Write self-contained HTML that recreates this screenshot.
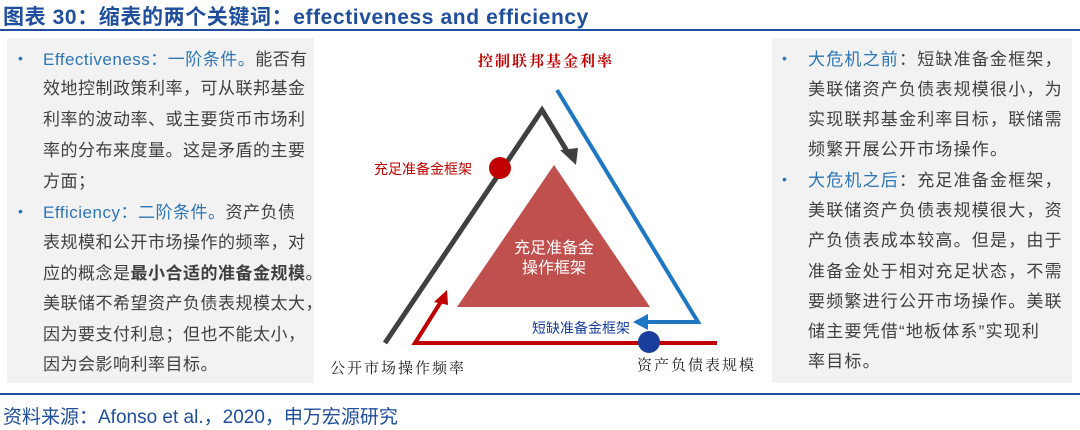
<!DOCTYPE html>
<html><head><meta charset="utf-8"><style>
body{margin:0;width:1080px;height:430px;background:#fff;position:relative;overflow:hidden;font-family:"Liberation Sans","Noto Sans CJK SC",sans-serif;}
.t{position:absolute;white-space:nowrap;}
.box{position:absolute;background:#f2f2f2;}
.ln{position:absolute;white-space:nowrap;font-size:17px;color:#404040;line-height:20px;}
.b{color:#2e75b6;}
.dot{position:absolute;color:#2e75b6;font-size:14px;}
</style></head><body>
<div class="t" style="left:3px;top:1px;font-size:21px;font-weight:bold;color:#1f4e9c;letter-spacing:0.6px;">图表 30：缩表的两个关键词：effectiveness and efficiency</div>
<div style="position:absolute;left:0;top:29px;width:1080px;height:2px;background:#1f4e9c;"></div>
<div class="box" style="left:7px;top:38px;width:307px;height:345px;"></div>
<div class="box" style="left:772px;top:38px;width:300px;height:345px;"></div>

<div class="dot" style="left:18px;top:50px;">•</div>
<div class="ln" style="left:43px;top:50px;letter-spacing:0.5px;"><span class="b">Effectiveness：一阶条件。</span>能否有</div>
<div class="ln" style="left:43px;top:79px;letter-spacing:0.5px;">效地控制政策利率，可从联邦基金</div>
<div class="ln" style="left:43px;top:110px;letter-spacing:0.5px;">利率的波动率、或主要货币市场利</div>
<div class="ln" style="left:43px;top:141px;letter-spacing:0.5px;">率的分布来度量。这是矛盾的主要</div>
<div class="ln" style="left:43px;top:172px;letter-spacing:0.5px;">方面；</div>
<div class="dot" style="left:18px;top:203px;">•</div>
<div class="ln" style="left:43px;top:203px;letter-spacing:0.5px;"><span class="b">Efficiency：二阶条件。</span>资产负债</div>
<div class="ln" style="left:43px;top:233px;letter-spacing:0.5px;">表规模和公开市场操作的频率，对</div>
<div class="ln" style="left:43px;top:264px;letter-spacing:0.5px;">应的概念是<b>最小合适的准备金规模</b>。</div>
<div class="ln" style="left:43px;top:294px;letter-spacing:0.5px;">美联储不希望资产负债表规模太大，</div>
<div class="ln" style="left:43px;top:325px;letter-spacing:0.5px;">因为要支付利息；但也不能太小，</div>
<div class="ln" style="left:43px;top:355px;letter-spacing:0.5px;">因为会影响利率目标。</div>

<div class="dot" style="left:782px;top:50px;">•</div>
<div class="ln" style="left:808px;top:50px;letter-spacing:1.2px;"><span class="b">大危机之前</span>：短缺准备金框架，</div>
<div class="ln" style="left:808px;top:80px;letter-spacing:1.2px;">美联储资产负债表规模很小，为</div>
<div class="ln" style="left:808px;top:110px;letter-spacing:1.2px;">实现联邦基金利率目标，联储需</div>
<div class="ln" style="left:808px;top:140px;letter-spacing:1.2px;">频繁开展公开市场操作。</div>
<div class="dot" style="left:782px;top:171px;">•</div>
<div class="ln" style="left:808px;top:171px;letter-spacing:1.2px;"><span class="b">大危机之后</span>：充足准备金框架，</div>
<div class="ln" style="left:808px;top:201px;letter-spacing:1.2px;">美联储资产负债表规模很大，资</div>
<div class="ln" style="left:808px;top:231px;letter-spacing:1.2px;">产负债表成本较高。但是，由于</div>
<div class="ln" style="left:808px;top:262px;letter-spacing:1.2px;">准备金处于相对充足状态，不需</div>
<div class="ln" style="left:808px;top:292px;letter-spacing:1.2px;">要频繁进行公开市场操作。美联</div>
<div class="ln" style="left:808px;top:322px;letter-spacing:1.2px;">储主要凭借“地板体系”实现利</div>
<div class="ln" style="left:808px;top:352px;letter-spacing:1.2px;">率目标。</div>

<svg style="position:absolute;left:0;top:0" width="1080" height="430">
<polygon points="554,165 457,307 650,307" fill="#c0504d"/>
<polyline points="385,343 542,110 570,156" fill="none" stroke="#404040" stroke-width="5"/>
<polygon points="576,165 560,150 578,148" fill="#404040"/>
<polyline points="557,90 698,322 645,322" fill="none" stroke="#1f77c4" stroke-width="4"/>
<polygon points="633,322 648,314 648,330" fill="#1f77c4"/>
<polyline points="717,343 415,343 442,300" fill="none" stroke="#c00000" stroke-width="4"/>
<polygon points="447,290 434,302 448,305" fill="#c00000"/>
<circle cx="500" cy="168" r="11" fill="#c00000"/>
<circle cx="649" cy="342" r="11" fill="#1a3e9c"/>
<text x="554" y="253" font-size="16" fill="#fff" text-anchor="middle" font-family="Noto Sans CJK SC">充足准备金</text>
<text x="554" y="273" font-size="16" fill="#fff" text-anchor="middle" font-family="Noto Sans CJK SC">操作框架</text>
</svg>
<div class="t" style="left:478px;top:50px;font-size:15px;font-weight:bold;color:#c00000;font-family:'Noto Serif CJK SC',serif;letter-spacing:2px;">控制联邦基金利率</div>
<div class="t" style="left:374px;top:159px;font-size:14px;color:#c00000;font-family:'Noto Sans CJK SC',sans-serif;">充足准备金框架</div>
<div class="t" style="left:532px;top:318px;font-size:14px;color:#1a3e9c;font-family:'Noto Sans CJK SC',sans-serif;">短缺准备金框架</div>
<div class="t" style="left:330px;top:357px;font-size:15px;color:#222;font-family:'Noto Serif CJK SC',serif;letter-spacing:2px;">公开市场操作频率</div>
<div class="t" style="left:637px;top:354px;font-size:15px;color:#222;font-family:'Noto Serif CJK SC',serif;letter-spacing:2px;">资产负债表规模</div>

<div style="position:absolute;left:0;top:393px;width:1080px;height:2px;background:#1f4e9c;"></div>
<div class="t" style="left:3px;top:402px;font-size:19px;color:#1f4e9c;">资料来源：Afonso et al.，2020，申万宏源研究</div>
</body></html>
